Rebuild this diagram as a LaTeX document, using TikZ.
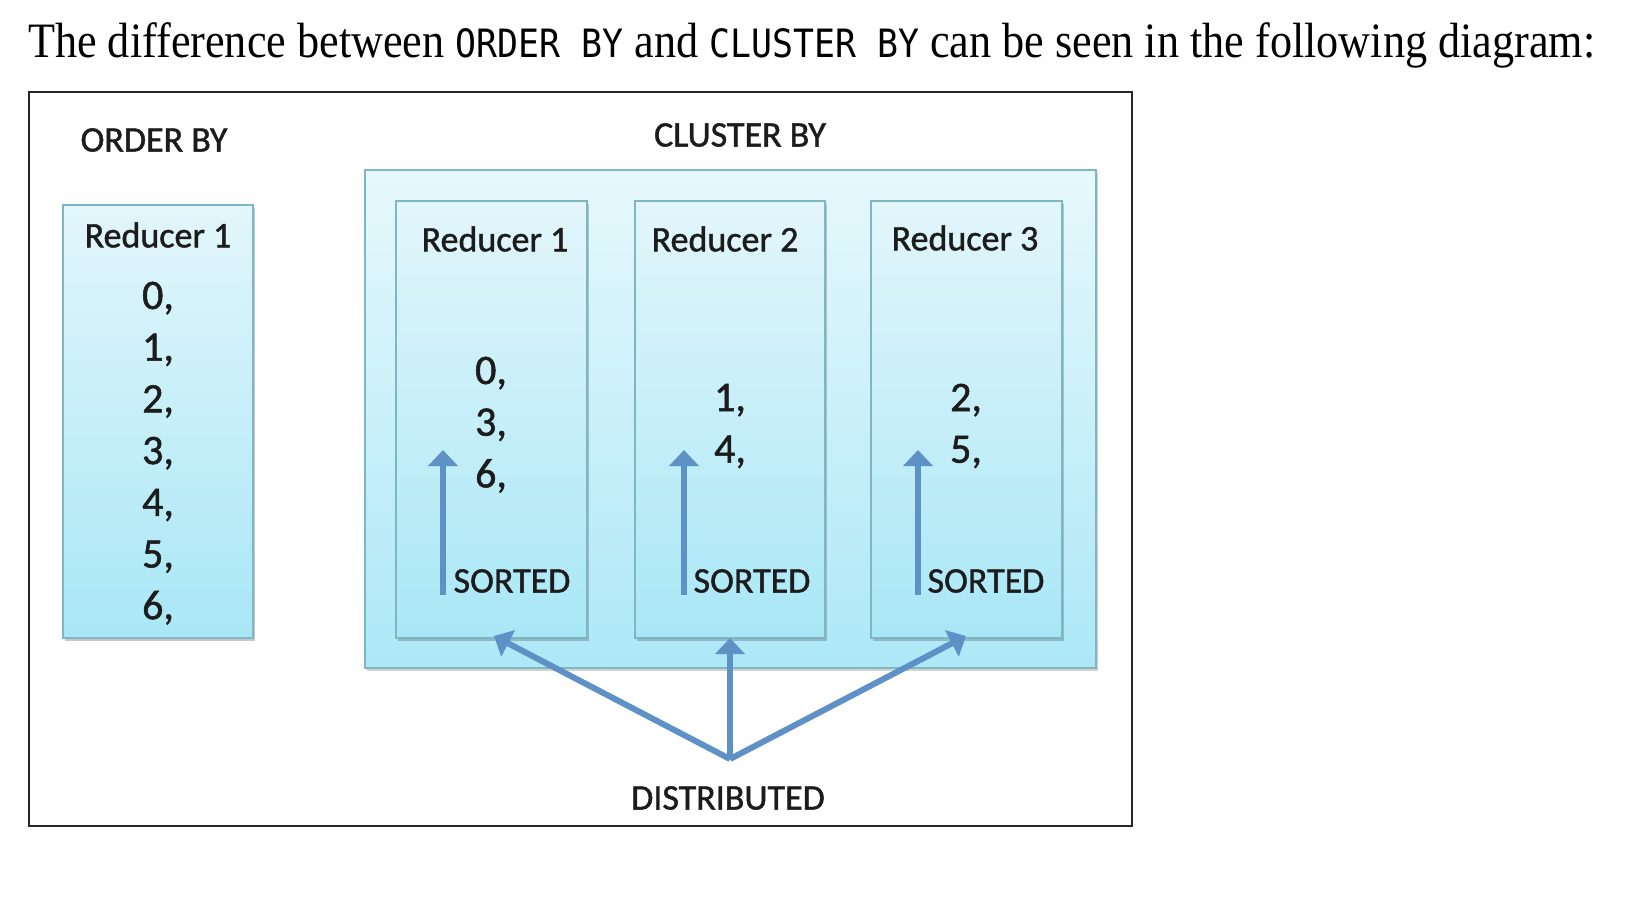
\documentclass[tikz,border=0pt]{standalone}
\usepackage{graphicx}
\usepackage{fontspec}
\setmainfont{Liberation Serif}
\newfontfamily\calib{Carlito}[FakeBold=1.2]
\newfontfamily\monof{DejaVu Sans Mono}
\usetikzlibrary{arrows.meta,shadows}
\definecolor{boxtop}{HTML}{E2F6FB}
\definecolor{boxbot}{HTML}{A9E7F6}
\definecolor{bigtop}{HTML}{E6F8FC}
\definecolor{bigbot}{HTML}{ADE8F7}
\definecolor{boxedge}{HTML}{7DB6C4}
\definecolor{arrowc}{HTML}{5E92C6}
\definecolor{inkc}{HTML}{1C1C1C}
\definecolor{framec}{HTML}{262626}
\begin{document}
\begin{tikzpicture}[x=1pt,y=-1pt,
  redbox/.style={draw=boxedge, line width=1.5pt, top color=boxtop, bottom color=boxbot,
    inner sep=0pt, drop shadow={shadow xshift=1.5pt, shadow yshift=-2.5pt, opacity=0.3, fill=black!70}},
  bigbox/.style={draw=boxedge, line width=1.5pt, top color=bigtop, bottom color=bigbot,
    inner sep=0pt, drop shadow={shadow xshift=1.5pt, shadow yshift=-2.5pt, opacity=0.25, fill=black!70}},
  lab/.style={font=\calib\fontsize{36}{40}\selectfont, text=inkc, inner sep=0pt},
  num/.style={font=\calib\fontsize{42}{50}\selectfont, text=inkc, inner sep=0pt, anchor=base},
  sarrow/.style={draw=arrowc, line width=6pt, -{Triangle[width=29pt,length=16pt]}},
]
\useasboundingbox (0,0) rectangle (1638,908);
\fill[white] (0,0) rectangle (1638,908);

% heading
\node[anchor=base west, inner sep=0pt] (head) at (28,57.5)
  {\scalebox{0.893}[1]{\fontsize{49.5}{55}\selectfont The difference between
   {\monof\fontsize{39}{40}\selectfont ORDER BY} and
   {\monof\fontsize{39}{40}\selectfont CLUSTER BY} can be seen in the following diagram:}};

% frame
\draw[framec, line width=2.5pt] (29,92) rectangle (1132,826);

% labels
\node[lab] (ob) at (154,140) {ORDER BY};
\node[lab] (cb) at (740,135) {CLUSTER BY};

% ORDER BY reducer
\node[redbox, minimum width=190pt, minimum height=433pt] (r0) at (158,421.5) {};
\node[lab] (r0t) at (158,235) {Reducer 1};
\node[num] (n00) at (158,309) {0,};
\node[num] (n01) at (158,360.7) {1,};
\node[num] (n02) at (158,412.4) {2,};
\node[num] (n03) at (158,464.1) {3,};
\node[num] (n04) at (158,515.8) {4,};
\node[num] (n05) at (158,567.5) {5,};
\node[num] (n06) at (158,619.2) {6,};

% CLUSTER BY container
\node[bigbox, minimum width=731pt, minimum height=498pt] (cl) at (730.5,419) {};

\node[redbox, minimum width=191pt, minimum height=437pt] (r1) at (491.5,419.5) {};
\node[redbox, minimum width=190pt, minimum height=437pt] (r2) at (730,419.5) {};
\node[redbox, minimum width=191pt, minimum height=437pt] (r3) at (966.5,419.5) {};

\node[lab] (r1t) at (495,239) {Reducer 1};
\node[lab] (r2t) at (725,239) {Reducer 2};
\node[lab] (r3t) at (965,238) {Reducer 3};

\node[num] (n10) at (491,384) {0,};
\node[num] (n13) at (491,435.7) {3,};
\node[num] (n16) at (491,487.4) {6,};
\node[num] (n21) at (730,411) {1,};
\node[num] (n24) at (730,462.7) {4,};
\node[num] (n32) at (966,411) {2,};
\node[num] (n35) at (966,462.7) {5,};

\node[lab] (s1) at (512,581) {SORTED};
\node[lab] (s2) at (752,581) {SORTED};
\node[lab] (s3) at (986,581) {SORTED};

\coordinate (a1b) at (443,595);
\coordinate (a1t) at (443,450);
\coordinate (a2b) at (684,595);
\coordinate (a2t) at (684,450);
\coordinate (a3b) at (918,595);
\coordinate (a3t) at (918,450);
\draw[sarrow] (a1b) -- (a1t);
\draw[sarrow] (a2b) -- (a2t);
\draw[sarrow] (a3b) -- (a3t);

% distribution
\coordinate (d0) at (730,759);
\coordinate (d1) at (494,636);
\coordinate (d2) at (730,638);
\coordinate (d3) at (966,636);
\draw[sarrow] (d0) -- (d1);
\draw[sarrow] (d0) -- (d2);
\draw[sarrow] (d0) -- (d3);

\node[lab] (dist) at (728,798) {DISTRIBUTED};
\end{tikzpicture}
\end{document}
